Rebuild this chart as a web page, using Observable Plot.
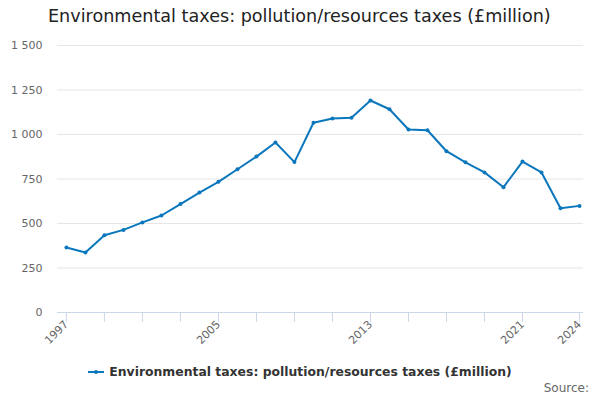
<!DOCTYPE html>
<html>
<head>
<meta charset="utf-8">
<script src="https://cdn.jsdelivr.net/npm/d3@7"></script>
<script src="https://cdn.jsdelivr.net/npm/@observablehq/plot@0.6"></script>
<style>
  html, body { margin: 0; padding: 0; background: #fff; }
  #wrap { position: relative; width: 600px; height: 400px; overflow: hidden; font-family: "DejaVu Sans", sans-serif; }
  #title { position: absolute; left: 48px; top: 6px; font-size: 17.6px; color: #222; white-space: nowrap; }
  #legend { position: absolute; left: 0; width: 600px; top: 364px; text-align: center; font-size: 12.4px; font-weight: bold; color: #333; white-space: nowrap; }
  #legend svg { vertical-align: middle; margin-right: 5px; position: relative; top: -1px; }
  #source { position: absolute; right: 11px; top: 381px; font-size: 12px; color: #666; }
  #chart { position: absolute; left: 0; top: 0; }
</style>
</head>
<body>
<div id="wrap">
  <div id="chart"></div>
  <div id="title">Environmental taxes: pollution/resources taxes (£million)</div>
  <div id="legend"><svg width="16" height="10"><line x1="0" x2="16" y1="5" y2="5" stroke="#0a77bd" stroke-width="2"/><circle cx="8" cy="5" r="2" fill="#0a77bd"/></svg>Environmental taxes: pollution/resources taxes (£million)</div>
  <div id="source">Source:</div>
</div>
<script>
const years = [1997,1998,1999,2000,2001,2002,2003,2004,2005,2006,2007,2008,2009,2010,2011,2012,2013,2014,2015,2016,2017,2018,2019,2020,2021,2022,2023,2024];
const values = [365,337,434,464,506,545,609,674,734,805,876,955,845,1066,1090,1094,1191,1142,1028,1024,906,844,787,704,848,787,586,599];
const yTicks = [0,250,500,750,1000,1250,1500];
const xTickMarks = [1997,1999,2001,2003,2005,2007,2009,2011,2013,2015,2017,2019,2021,2024];
const xTickLabels = [1997,2005,2013,2021,2024];

const data = years.map((y, i) => ({year: y, value: values[i]}));
const fmt = v => d3.format(",")(v).replace(/,/g, " ");
const blue = "#0a77bd";

const chart = Plot.plot({
  width: 600,
  height: 400,
  marginTop: 45,
  marginBottom: 88,
  marginLeft: 57,
  marginRight: 17,
  style: { fontFamily: "DejaVu Sans, sans-serif", fontSize: "11px", color: "#666", background: "transparent" },
  x: { domain: [1996.53, 2024.21], axis: null, label: null },
  y: { domain: [0, 1500], axis: null, label: null },
  marks: [
    Plot.gridY(yTicks.filter(d => d > 0), { stroke: "#e6e6e6", strokeOpacity: 1 }),
    Plot.ruleY([0], { stroke: "#ccd6eb" }),
    Plot.axisX(xTickMarks, { tickSize: 10, stroke: "#ccd6eb", strokeOpacity: 1, tickFormat: () => "", label: null }),
    Plot.axisX(xTickLabels, { tickSize: 0, tickRotate: -45, tickPadding: 10, tickFormat: d => String(d), fill: "#666", fontSize: 11, textAnchor: "end", label: null }),
    Plot.axisY(yTicks, { tickSize: 0, tickPadding: 15, tickFormat: fmt, fill: "#666", fontSize: 11, label: null }),
    Plot.line(data, { x: "year", y: "value", stroke: blue, strokeWidth: 2 }),
    Plot.dot(data, { x: "year", y: "value", fill: blue, r: 2 })
  ]
});
document.getElementById("chart").appendChild(chart);
</script>
</body>
</html>
